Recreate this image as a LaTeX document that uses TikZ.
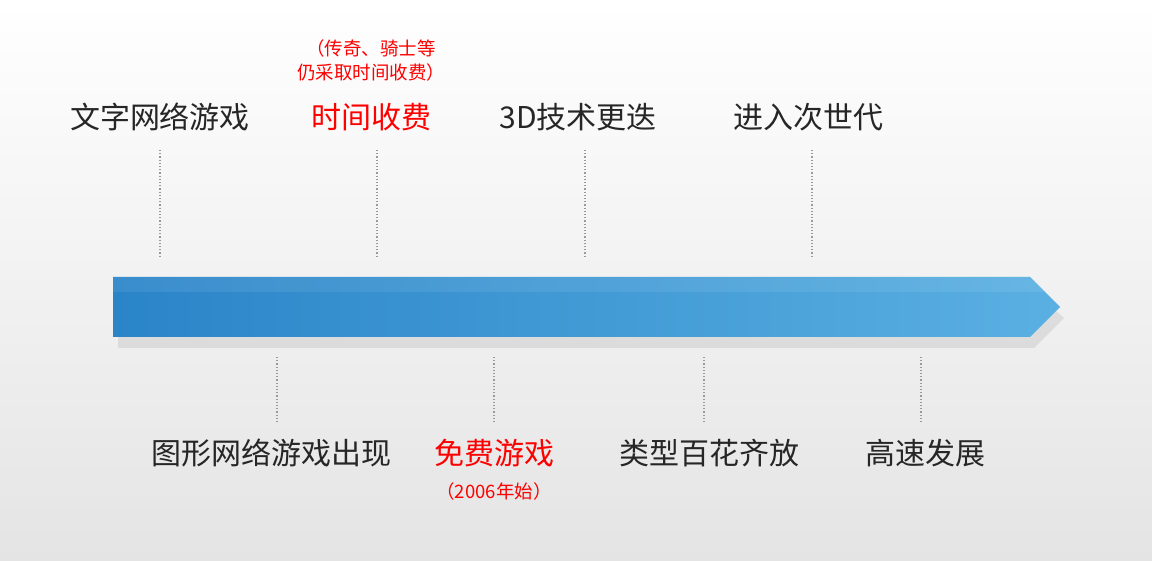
\documentclass[tikz,border=0pt]{standalone}
\usepackage{fontspec}
\setmainfont{Noto Sans CJK SC}
\usetikzlibrary{shadings}
\definecolor{bluedark}{HTML}{2A84C8}
\definecolor{bluelight}{HTML}{5AB0E2}
\definecolor{gtop}{HTML}{FFFFFF}
\definecolor{gbot}{HTML}{E4E4E4}
\begin{document}
\begin{tikzpicture}[x=1pt,y=-1pt,
  big/.style={font=\fontsize{30}{34}\selectfont,text=black!85,inner sep=0pt},
  redbig/.style={big,text=red},
  small/.style={font=\fontsize{18.5}{24}\selectfont,text=red,inner sep=0pt,align=center},
  tick/.style={draw=gray!80,line width=1.2pt,dash pattern=on 1.2pt off 2pt}]
\shade[top color=gtop,bottom color=gbot] (0,0) rectangle (1152,561);
\useasboundingbox (0,0) rectangle (1152,561);
% shadow
\fill[black,opacity=0.08] (118,290) -- (1032,290) -- (1064,318) -- (1034,348) -- (118,348) -- cycle;
\shade[left color=bluedark,right color=bluelight] (113,277) -- (1030,277) -- (1060,307) -- (1030,337) -- (113,337) -- cycle;
\shade[top color=white,bottom color=white,opacity=0.08] (113,277) -- (1030,277) -- (1045,292) -- (113,292) -- cycle;
% top labels
\node[big] (t1) at (160,117) {文字网络游戏};
\node[redbig] (t2) at (371,117) {时间收费};
\node[big] (t3) at (578,117) {3D技术更迭};
\node[big] (t4) at (808,117) {进入次世代};
\node[small] (n1) at (371,60) {（传奇、骑士等\\仍采取时间收费）};
\coordinate (a1) at (160,150); \coordinate (b1) at (160,257);
\coordinate (a2) at (377,150); \coordinate (b2) at (377,257);
\coordinate (a3) at (585,150); \coordinate (b3) at (585,257);
\coordinate (a4) at (812,150); \coordinate (b4) at (812,257);
\foreach \i in {1,...,4} \draw[tick] (a\i) -- (b\i);
% bottom labels
\node[big] (u1) at (271,453) {图形网络游戏出现};
\node[redbig] (u2) at (494,453) {免费游戏};
\node[big] (u3) at (709,453) {类型百花齐放};
\node[big] (u4) at (925,453) {高速发展};
\node[small] (n2) at (494,491) {（2006年始）};
\coordinate (c1) at (277,357); \coordinate (d1) at (277,422);
\coordinate (c2) at (494,357); \coordinate (d2) at (494,422);
\coordinate (c3) at (704,357); \coordinate (d3) at (704,422);
\coordinate (c4) at (921,357); \coordinate (d4) at (921,422);
\foreach \i in {1,...,4} \draw[tick] (c\i) -- (d\i);
\end{tikzpicture}
\end{document}
